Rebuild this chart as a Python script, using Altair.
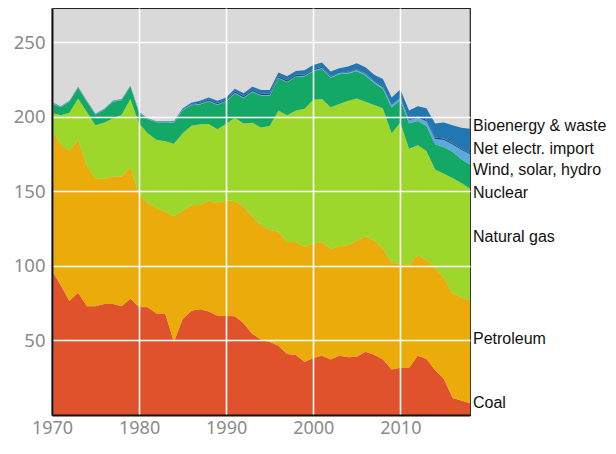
import altair as alt
import pandas as pd

years = list(range(1970, 2019))

coal = [97, 87, 76.5, 82, 73, 73, 74.5, 74.5, 73, 78,
        72.5, 72.3, 68, 68, 49, 64.2, 69.9, 71, 69.5, 66.5,
        66.4, 66.3, 61.5, 54.3, 50.7, 48.9, 46.5, 41, 40.3, 35.5,
        38.2, 39.8, 37.2, 39.8, 38.7, 39.1, 42.4, 40.4, 37.2, 30.6,
        31.7, 31.5, 39.8, 37.6, 30, 24.1, 11.4, 9.7, 7.8]

petroleum = [94.2, 94.4, 100.5, 102.6, 94.2, 85.5, 84.0, 85.5, 87.0, 88.1,
             75.1, 69.9, 70.9, 68.1, 84.5, 72.5, 70.8, 69.9, 74.4, 75.7,
             77.5, 77.3, 78.0, 78.9, 76.8, 75.2, 76.5, 75.0, 75.7, 77.2,
             76.8, 76.2, 74.0, 73.6, 75.2, 78.0, 77.5, 76.7, 74.5, 71.3,
             69.8, 69.3, 67.5, 66.4, 68.2, 68.0, 69.8, 69.3, 69.0]

natural_gas = [11.3, 19.6, 25.7, 27.7, 36.0, 35.9, 37.7, 38.8, 41.4, 45.8,
               48.0, 46.8, 45.7, 47.5, 48.5, 52.3, 53.3, 54.1, 51.3, 49.5,
               51.4, 55.8, 56.1, 62.8, 65.4, 69.7, 81.2, 85.0, 88.2, 92.7,
               96.5, 96.0, 95.2, 95.2, 96.9, 95.2, 90.2, 90.9, 94.1, 87.1,
               94.7, 77.8, 73.7, 73.0, 66.4, 69.7, 77.8, 76.7, 75.2]

nuclear = [6.5, 5.4, 7.4, 7.2, 6.9, 7.0, 8.5, 11.3, 9.8, 8.5,
           6.9, 9.3, 11.7, 12.7, 14.1, 15.4, 13.7, 13.3, 15.2, 16.3,
           15.0, 16.3, 16.9, 20.7, 21.4, 20.4, 21.6, 22.2, 22.7, 21.7,
           19.0, 20.3, 19.8, 20.0, 18.2, 18.3, 17.7, 14.5, 12.9, 17.3,
           15.1, 16.9, 16.2, 16.9, 17.0, 17.8, 17.6, 15.9, 15.9]

wind_solar_hydro = [0.4, 0.4, 0.4, 0.4, 0.4, 0.4, 0.4, 0.4, 0.4, 0.4,
                    0.4, 0.4, 0.4, 0.4, 0.4, 0.4, 0.4, 0.4, 0.4, 0.4,
                    0.4, 0.4, 0.4, 0.4, 0.4, 0.4, 0.4, 0.4, 0.4, 0.4,
                    0.5, 0.5, 0.6, 0.6, 0.7, 0.8, 0.9, 1.0, 1.2, 1.4,
                    1.4, 2.2, 2.4, 3.2, 3.6, 4.8, 4.8, 6.3, 7.0]

net_import = [0, 0, 0, 0, 0, 0, 0, 0, 0, 0,
              0, 0, 0, 0, 0, 0, 0.4, 0.8, 0.8, 0.9,
              0.8, 1.0, 1.0, 1.0, 1.0, 1.0, 1.0, 1.0, 0.9, 0.9,
              0.9, 0.8, 0.6, 0.2, 0.5, 0.6, 0.5, 0.5, 0.8, 0.3,
              0.2, 0.5, 0.8, 0.9, 1.0, 1.0, 0.9, 0.8, 0.9]

bioenergy = [0.3, 0.3, 0.3, 0.3, 0.3, 0.3, 0.3, 0.3, 0.3, 0.3,
             0.3, 0.3, 0.3, 0.3, 0.5, 0.8, 1.0, 1.3, 1.4, 1.5,
             1.5, 1.8, 1.9, 2.1, 2.3, 2.4, 2.5, 2.6, 2.5, 2.8,
             2.9, 2.8, 3.0, 3.2, 3.5, 3.9, 4.1, 4.2, 4.7, 5.0,
             5.5, 6.0, 6.7, 7.8, 9.3, 10.8, 12.1, 14.0, 16.2]

sources = ["Coal", "Petroleum", "Natural gas", "Nuclear",
           "Wind, solar, hydro", "Net electr. import", "Bioenergy & waste"]
series = [coal, petroleum, natural_gas, nuclear, wind_solar_hydro, net_import, bioenergy]
colors = ["#df522b", "#ebab0b", "#9dd72c", "#14a866", "#5aaae0", "#1d4e79", "#2277b2"]

# label anchor values (where the right-hand labels sit)
label_names = ["Bioenergy & waste", "Net electr. import", "Wind, solar, hydro",
               "Nuclear", "Natural gas", "Petroleum", "Coal"]
label_values = [193.6, 178.6, 164.2, 149.2, 119.1, 51.1, 8.0]

rows = []
for i, (name, vals) in enumerate(zip(sources, series)):
    for y, v in zip(years, vals):
        rows.append({"year": y, "source": name, "idx": i, "value": v})
df = pd.DataFrame(rows)

lab_df = pd.DataFrame({"year": [2018] * len(label_names),
                       "label": label_names, "pos": label_values})

W, H = 418, 407
xscale = alt.Scale(domain=[1970, 2018], nice=False, zero=False)
yscale = alt.Scale(domain=[0, 273], nice=False)

areas = alt.Chart(df).mark_area(interpolate="linear").encode(
    x=alt.X("year:Q", scale=xscale,
            axis=alt.Axis(values=[1970, 1980, 1990, 2000, 2010], format="d",
                          title=None, ticks=False, labelPadding=18,
                          labelBaseline="alphabetic",
                          labelFont="Noto Sans", labelFontSize=18,
                          labelColor="#8a8a8a", gridColor="white",
                          gridWidth=1.6, gridOpacity=1, domainColor="#111",
                          domainWidth=2, zindex=1, labelFlush=False)),
    y=alt.Y("value:Q", stack="zero", scale=yscale,
            axis=alt.Axis(values=[50, 100, 150, 200, 250], title=None,
                          ticks=False, labelPadding=7,
                          labelFont="Noto Sans", labelFontSize=18.5,
                          labelColor="#8a8a8a", gridColor="white",
                          gridWidth=1.6, gridOpacity=1, domainColor="#111",
                          domainWidth=2, zindex=1)),
    color=alt.Color("source:N", scale=alt.Scale(domain=sources, range=colors),
                    legend=None),
    order=alt.Order("idx:Q", sort="ascending"),
)

labels = alt.Chart(lab_df).mark_text(
    align="left", baseline="middle", dx=3,
    font="Liberation Sans", fontSize=16, color="#111", clip=False,
).encode(
    x=alt.X("year:Q", scale=xscale),
    y=alt.Y("pos:Q", scale=yscale),
    text="label:N",
)

chart = alt.layer(areas, labels).properties(
    width=W, height=H,
    autosize=alt.AutoSizeParams(type="none"),
    padding={"left": 44, "top": 0, "right": 138, "bottom": 25},
).configure_view(
    fill="#d9d9d9", stroke="#222", strokeWidth=1.2,
)

chart.save("out.html", embed_options={"renderer": "svg", "actions": False})
